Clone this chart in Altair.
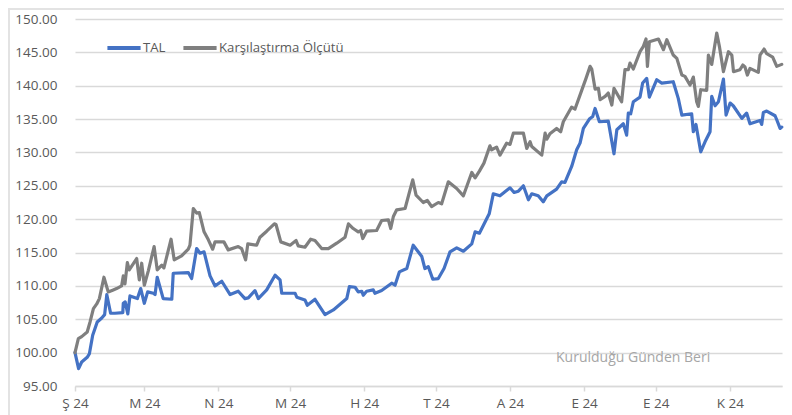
import json
import altair as alt
import pandas as pd

# ---------------- data ----------------
series_names = ["TAL", "Karşılaştırma Ölçütü"]
series_colors = ["#4472C4", "#7F7F7F"]

start_date = "2024-02-01"

# day offsets from start_date and index values
tal_day = [0, 1.5, 2.8, 5.1, 6.0, 7.4, 9.3, 11.2, 12.4, 13.3, 14.9, 16.7, 20.0, 20.2, 21.0, 22.1, 23.0, 26.1, 27.5, 29.0,
           30.4, 32.8, 33.5, 34.4, 36.9, 40.5, 41.1, 47.4, 48.8, 50.9, 52.3, 54.0, 56.5, 58.6, 61.4, 64.9, 68.3, 71.1,
           72.5, 75.3, 76.7, 80.2, 83.7, 85.8, 86.5, 92.1, 92.8, 96.2, 97.2, 100.4, 104.6, 108.1, 113.7, 114.8, 117.2,
           118.5, 120.0, 120.6, 122.0, 124.8, 125.5, 128.3, 132.5, 133.9, 135.7, 138.8, 141.5, 145.1, 146.4, 147.8,
           149.7, 152.0, 154.4, 156.9, 159.7, 162.5, 166.0, 167.4, 169.2, 170.2, 173.3, 175.0, 177.8, 182.0, 183.7,
           185.5, 187.6, 189.7, 191.1, 193.8, 195.9, 197.4, 201.5, 203.6, 205.0, 207.8, 209.9, 211.3, 212.7, 215.2,
           216.6, 217.6, 219.4, 223.1, 225.5, 226.7, 229.4, 230.8, 231.5, 232.5, 233.6, 236.4, 237.5, 239.2, 240.3,
           243.4, 245.5, 250.3, 252.4, 253.9, 258.0, 258.7, 259.8, 261.8, 263.6, 265.7, 266.4, 267.8, 269.2, 271.3,
           272.4, 274.1, 275.4, 279.0, 281.0, 282.4, 286.6, 287.3, 288.0, 289.4, 292.9, 293.6, 295.0, 295.7]
tal_value = [100.0, 97.6, 98.6, 99.3, 99.8, 102.6, 104.6, 105.2, 105.7, 108.7, 105.9, 105.9, 106.0, 107.4, 107.6, 105.8,
             108.5, 108.1, 109.6, 107.4, 109.1, 108.9, 108.7, 111.3, 108.1, 108.0, 111.9, 112.0, 111.1, 115.6, 114.9,
             115.1, 111.5, 110.0, 110.7, 108.7, 109.2, 108.1, 108.2, 109.3, 108.1, 109.4, 111.6, 110.9, 108.9, 108.9,
             108.3, 107.9, 107.1, 108.0, 105.7, 106.4, 108.1, 109.9, 109.8, 109.1, 109.2, 108.6, 109.2, 109.4, 108.9,
             109.3, 110.4, 110.1, 112.1, 112.6, 116.1, 114.4, 112.6, 112.9, 111.0, 111.1, 112.6, 115.1, 115.7, 115.2,
             116.3, 118.1, 117.9, 118.6, 120.8, 123.8, 123.5, 124.7, 124.0, 124.2, 125.0, 122.9, 123.8, 123.5, 122.6,
             123.5, 124.5, 125.6, 125.5, 127.9, 130.4, 131.4, 133.6, 135.0, 135.4, 136.6, 134.6, 134.7, 129.8, 133.4,
             134.3, 132.6, 135.9, 135.8, 137.6, 138.3, 140.4, 141.1, 138.3, 140.9, 140.4, 140.6, 138.1, 135.6, 135.8,
             133.1, 134.2, 130.1, 131.6, 133.1, 138.4, 137.0, 137.6, 141.0, 135.6, 137.4, 137.0, 135.1, 135.9, 134.3,
             134.8, 134.2, 136.0, 136.2, 135.5, 134.9, 133.6, 133.8]

bm_day = [0, 1.4, 2.8, 5.1, 6.3, 7.7, 9.1, 10.2, 12.1, 13.9, 16.0, 17.4, 19.5, 20.2, 20.9, 21.9, 22.7, 25.8, 26.9, 27.9,
          29.0, 30.7, 33.1, 34.4, 36.3, 37.2, 40.2, 41.5, 44.6, 47.4, 48.1, 49.5, 50.9, 52.0, 54.0, 55.8, 57.6, 58.6,
          62.3, 64.1, 68.3, 69.7, 71.4, 72.3, 76.0, 77.4, 80.2, 83.4, 84.1, 86.1, 90.0, 92.5, 93.4, 96.2, 98.6, 100.4,
          103.2, 106.0, 109.5, 113.0, 114.4, 116.4, 118.5, 119.5, 120.4, 122.0, 126.2, 128.3, 131.1, 132.1, 133.2,
          134.6, 138.1, 141.3, 142.7, 145.7, 147.4, 149.2, 152.0, 153.4, 156.2, 159.7, 162.5, 166.0, 167.4, 169.2,
          171.1, 173.6, 174.3, 176.4, 177.8, 180.6, 182.0, 183.4, 187.6, 189.0, 190.4, 191.1, 195.3, 196.7, 197.4,
          198.7, 201.5, 203.2, 204.3, 207.8, 209.2, 212.0, 213.8, 215.5, 216.2, 217.6, 219.0, 219.7, 221.8, 223.1,
          224.6, 225.5, 228.7, 230.1, 231.5, 232.2, 233.6, 236.4, 237.8, 238.9, 239.5, 240.3, 244.1, 246.2, 247.6,
          250.3, 251.8, 253.9, 255.2, 257.3, 258.7, 260.1, 260.8, 261.8, 264.3, 265.0, 266.4, 268.5, 269.6, 271.3,
          273.4, 274.8, 275.5, 278.2, 279.4, 280.3, 281.3, 282.4, 285.9, 286.6, 288.3, 289.4, 291.9, 293.6, 295.7]
bm_value = [100.0, 102.1, 102.4, 103.1, 104.6, 106.6, 107.3, 108.1, 111.3, 109.1, 109.4, 109.6, 110.0, 111.5, 110.3,
            113.5, 112.4, 114.1, 110.9, 113.4, 110.1, 112.3, 115.9, 112.4, 113.1, 112.7, 117.0, 113.9, 114.5, 115.5,
            116.1, 121.6, 120.9, 121.0, 118.1, 116.9, 115.5, 116.6, 116.6, 115.4, 115.9, 115.6, 113.9, 116.3, 116.1,
            117.3, 118.2, 119.3, 119.2, 116.6, 116.1, 116.8, 116.0, 115.8, 117.0, 116.8, 115.6, 115.6, 116.4, 117.3,
            119.3, 118.6, 118.1, 118.3, 117.1, 118.2, 118.3, 119.8, 119.9, 118.6, 120.4, 121.4, 121.6, 125.9, 123.6,
            122.5, 122.8, 121.9, 122.5, 122.3, 125.6, 124.6, 123.5, 127.0, 126.2, 127.2, 128.4, 131.0, 130.4, 130.8,
            129.6, 131.4, 131.2, 132.9, 132.9, 130.6, 131.6, 130.9, 129.6, 132.9, 132.0, 132.8, 133.6, 133.1, 134.6,
            136.8, 136.5, 139.3, 141.1, 142.9, 142.5, 139.5, 139.6, 137.9, 138.4, 138.9, 137.1, 139.6, 137.6, 142.4,
            142.4, 143.4, 142.5, 145.1, 145.9, 147.0, 142.9, 146.6, 147.0, 145.4, 146.9, 144.6, 144.1, 141.6, 141.4,
            140.1, 141.3, 137.6, 136.9, 139.4, 139.3, 144.6, 143.2, 147.9, 145.9, 142.1, 145.1, 144.6, 142.1, 142.4,
            143.1, 142.8, 141.6, 142.6, 142.0, 144.6, 145.5, 144.8, 144.3, 142.9, 143.2]

assert len(tal_day) == len(tal_value), (len(tal_day), len(tal_value))
assert len(bm_day) == len(bm_value), (len(bm_day), len(bm_value))

x_tick_dates = ["2024-02-01", "2024-03-01", "2024-04-01", "2024-05-01", "2024-06-01",
                "2024-07-01", "2024-08-01", "2024-09-01", "2024-10-01", "2024-11-01"]
month_letters = ["O", "Ş", "M", "N", "M", "H", "T", "A", "E", "E", "K", "A"]
year_label = "24"
x_end_day = 295.8
y_ticks = [95, 100, 105, 110, 115, 120, 125, 130, 135, 140, 145, 150]

note_text = ["Kurulduğu Günden Beri"]
note_day = [233.5]
note_value = [99.2]

# ---------------- build table ----------------
t0 = pd.Timestamp(start_date)


def to_ms(days):
    return [int((t0 + pd.Timedelta(days=d)).value // 10**6) for d in days]


df = pd.concat([
    pd.DataFrame({"t": to_ms(tal_day), "value": tal_value, "series": series_names[0]}),
    pd.DataFrame({"t": to_ms(bm_day), "value": bm_value, "series": series_names[1]}),
], ignore_index=True)
df["order"] = range(len(df))

note_df = pd.DataFrame({"t": to_ms(note_day), "value": note_value, "text": note_text})

tick_ms = [int(pd.Timestamp(d).value // 10**6) for d in x_tick_dates]
x_domain = [to_ms([0])[0], to_ms([x_end_day])[0]]

FONT = "Open Sans"
W, H = 707, 367
PAD_L, PAD_T = 67, 11

label_expr = json.dumps(month_letters, ensure_ascii=False) + "[utcmonth(datum.value)] + ' " + year_label + "'"

x_axis = alt.Axis(values=tick_ms, labelExpr=label_expr, title=None, grid=False, labelFlush=False,
                  labelOverlap=False,
                  domainColor="#D9D9D9", domainWidth=1.5, tickColor="#D9D9D9", tickWidth=1.5,
                  tickSize=5, labelPadding=5, labelFontSize=13.5, labelColor="#595959",
                  labelFont=FONT)
y_axis = alt.Axis(values=y_ticks, tickCount=len(y_ticks), format=".2f", title=None, domain=False, ticks=False,
                  tickSize=0, labelOverlap=False,
                  labelPadding=18, labelFontSize=13.5, labelColor="#595959", labelFont=FONT,
                  gridColor="#D9D9D9", gridWidth=1.5)
x_scale = alt.Scale(type="utc", domain=x_domain)
y_scale = alt.Scale(domain=[95, 150], nice=False, zero=False)

lines = alt.Chart(df).mark_line(strokeWidth=3.2, strokeJoin="round", strokeCap="round").encode(
    x=alt.X("t:T", scale=x_scale, axis=x_axis),
    y=alt.Y("value:Q", scale=y_scale, axis=y_axis),
    color=alt.Color("series:N", sort=series_names,
                    scale=alt.Scale(domain=series_names, range=series_colors),
                    legend=alt.Legend(title=None, orient="none", legendX=30, legendY=10, direction="horizontal",
                                      symbolType="stroke", symbolStrokeWidth=4, symbolSize=1100,
                                      labelFontSize=13.2, labelColor="#595959", labelFont=FONT,
                                      labelOffset=0, columnPadding=9, padding=0)),
    order="order:Q",
)

note = alt.Chart(note_df).mark_text(font=FONT, fontSize=14, color="#A6A6A6", align="center",
                                    baseline="middle").encode(
    x=alt.X("t:T", scale=x_scale, axis=x_axis),
    y=alt.Y("value:Q", scale=y_scale, axis=y_axis),
    text="text:N")

# light chart-area frame (top and left edges), drawn at the svg's own top-left edge
frame_top = alt.Chart(note_df).mark_rule(color="#E3E3E3", strokeWidth=2).encode(
    x=alt.value(-PAD_L), x2=alt.value(W + 14), y=alt.value(-PAD_T + 1))
frame_left = alt.Chart(note_df).mark_rule(color="#E3E3E3", strokeWidth=2).encode(
    x=alt.value(-PAD_L + 1), y=alt.value(-PAD_T), y2=alt.value(H + 40))

chart = alt.layer(frame_top, frame_left, lines, note).properties(
    width=W, height=H,
    autosize=alt.AutoSizeParams(type="none"),
    padding={"left": PAD_L, "top": PAD_T, "right": 2, "bottom": 30},
    background="white",
).configure_view(stroke=None)

chart.save("out.html", embed_options={"renderer": "svg", "actions": False})
